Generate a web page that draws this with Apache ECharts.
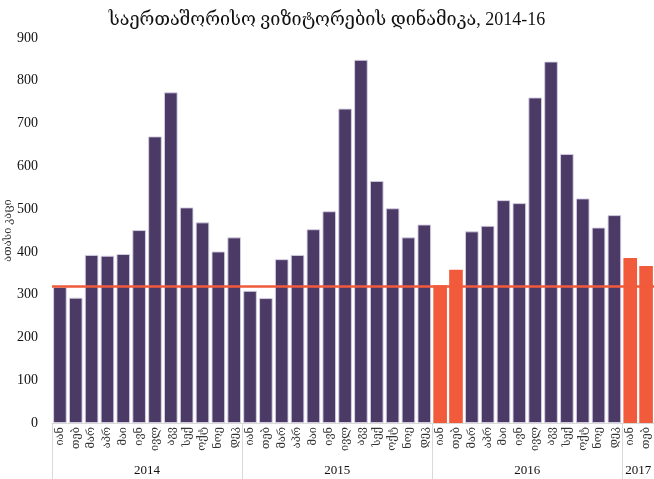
<!DOCTYPE html>
<html><head><meta charset="utf-8">
<script src="https://cdn.jsdelivr.net/npm/echarts@6/dist/echarts.min.js"></script>
<style>html,body{margin:0;padding:0;background:#fff}#c{width:654px;height:479px}</style>
</head><body><div id="c"></div>
<script>
const months = ['იან','თებ','მარ','აპრ','მაი','ივნ','ივლ','აგვ','სექ','ოქტ','ნოე','დეკ'];
const years = ['2014','2015','2016','2017'];
const yearLengths = [12,12,12,2];
const visitors = [
  318,293,393,391,395,451,670,773,504,469,401,434,
  309,292,383,393,453,495,735,849,566,502,434,464,
  322,358,448,461,521,514,761,845,629,525,457,486,
  386,367
];
const highlighted = [24,25,36,37];
const referenceLine = 320;
const yTicks = {min:0, max:900, interval:100};

const cats = [];
yearLengths.forEach((n,yi)=>{ for(let i=0;i<n;i++) cats.push(months[i]); });
const boundaries = [0];
yearLengths.forEach(n=>boundaries.push(boundaries[boundaries.length-1]+n));
const yearAxisData = [];
for(let i=0;i<=cats.length;i++) yearAxisData.push('');
const labelIdx = [];
yearLengths.forEach((n,yi)=>{ const c = boundaries[yi] + n/2; yearAxisData[c] = years[yi]; labelIdx.push(c); });

const purple = '#4b3a66', orange = '#f15a3a';
const barData = visitors.map((v,i)=> highlighted.includes(i)
  ? {value:v, itemStyle:{color:orange, borderWidth:0}}
  : {value:v});

const font = '"Liberation Serif","DejaVu Serif",serif';
const chart = echarts.init(document.getElementById('c'));
chart.setOption({
  animation:false,
  textStyle:{fontFamily:font},
  title:{text:'საერთაშორისო ვიზიტორების დინამიკა, 2014-16', left:'center', top:6,
    textStyle:{fontFamily:font, fontSize:18, fontWeight:'normal', color:'#111'}},
  grid:{left:52, right:0, top:38, bottom:56, containLabel:false, outerBoundsMode:'none'},
  xAxis:[{
    type:'category', data:cats, position:'bottom',
    axisLine:{lineStyle:{color:'#d9d9d9'}}, axisTick:{show:false},
    axisLabel:{rotate:90, interval:0, fontSize:11, color:'#333', margin:4, fontFamily:font}
  },{
    type:'category', data:yearAxisData, boundaryGap:false, position:'bottom',
    axisLine:{show:false},
    axisTick:{show:true, length:56, interval:(i)=>boundaries.includes(i), lineStyle:{color:'#d9d9d9'}},
    axisLabel:{interval:(i)=>labelIdx.includes(i), margin:41, fontSize:13, color:'#111', fontFamily:font}
  }],
  yAxis:{type:'value', min:yTicks.min, max:yTicks.max, interval:yTicks.interval,
    name:'ათასი კაცი', nameLocation:'middle', nameRotate:90, nameGap:38, nameMoveOverlap:false,
    nameTextStyle:{fontSize:11, color:'#333', fontFamily:font},
    axisLine:{show:false}, axisTick:{show:false}, splitLine:{show:false},
    axisLabel:{fontSize:14, color:'#111', margin:14, fontFamily:font}},
  series:[{
    type:'bar', data:barData, xAxisIndex:0, barCategoryGap:'14%',
    itemStyle:{color:purple, borderColor:'rgba(215,208,228,0.9)', borderWidth:1},
    markLine:{silent:true, symbol:'none', label:{show:false},
      lineStyle:{color:orange, width:2.5, type:'solid'},
      data:[{yAxis:referenceLine}]}
  }]
});
</script></body></html>
